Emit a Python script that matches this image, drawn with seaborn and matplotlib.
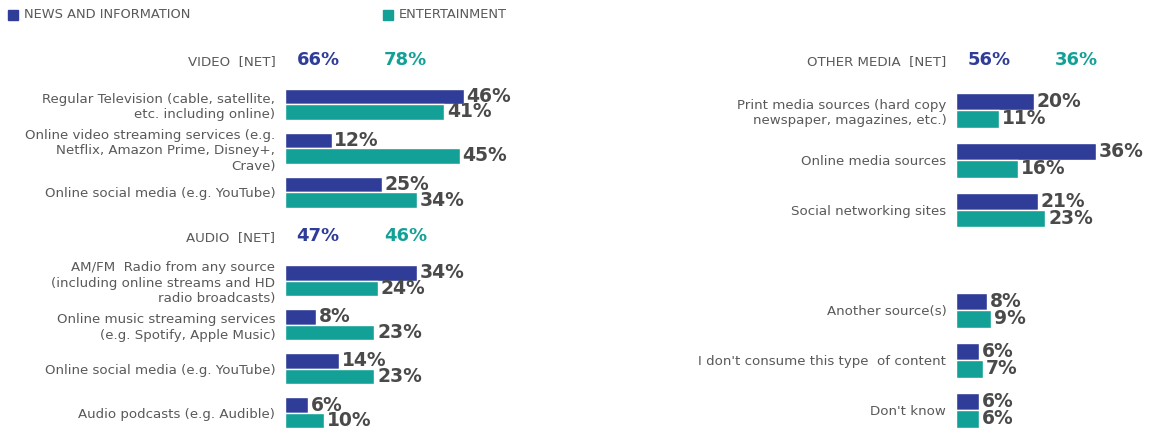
import numpy as np
import pandas as pd
import matplotlib
matplotlib.use("Agg")
import matplotlib.pyplot as plt
from matplotlib.patches import Rectangle
import seaborn as sns

# ---- data -------------------------------------------------------------
series_names = ["NEWS AND INFORMATION", "ENTERTAINMENT"]

left_keys = ["video_net", "tv", "video_stream", "video_social",
             "audio_net", "radio", "music_stream", "audio_social", "podcasts"]
left_labels = [
    "VIDEO  [NET]",
    "Regular Television (cable, satellite,\netc. including online)",
    "Online video streaming services (e.g.\nNetflix, Amazon Prime, Disney+,\nCrave)",
    "Online social media (e.g. YouTube)",
    "AUDIO  [NET]",
    "AM/FM  Radio from any source\n(including online streams and HD\nradio broadcasts)",
    "Online music streaming services\n(e.g. Spotify, Apple Music)",
    "Online social media (e.g. YouTube)",
    "Audio podcasts (e.g. Audible)",
]
left_news = [np.nan, 46, 12, 25, np.nan, 34, 8, 14, 6]
left_ent = [np.nan, 41, 45, 34, np.nan, 24, 23, 23, 10]
left_net_rows = ["video_net", "audio_net"]
left_net_news = [66, 47]
left_net_ent = [78, 46]

right_keys = ["other_net", "print", "online_media", "social_sites",
              "spacer", "another", "dont_consume", "dont_know"]
right_labels = [
    "OTHER MEDIA  [NET]",
    "Print media sources (hard copy\nnewspaper, magazines, etc.)",
    "Online media sources",
    "Social networking sites",
    "",
    "Another source(s)",
    "I don't consume this type  of content",
    "Don't know",
]
right_news = [np.nan, 20, 36, 21, np.nan, 8, 6, 6]
right_ent = [np.nan, 11, 16, 23, np.nan, 9, 7, 6]
right_net_rows = ["other_net"]
right_net_news = [56]
right_net_ent = [36]

# ---- style ------------------------------------------------------------
BLUE = "#2f3c98"
TEAL = "#13a197"
LABEL_GRAY = "#595959"
VALUE_GRAY = "#4a4a4a"

sns.set_style("white")
plt.rcParams["font.family"] = ["DejaVu Sans"]


def long_frame(keys, news, ent):
    return pd.DataFrame({
        "item": keys * 2,
        "source": [series_names[0]] * len(keys) + [series_names[1]] * len(keys),
        "pct": list(news) + list(ent),
    })


def draw_panel(ax, keys, labels, news, ent, net_rows, net_news, net_ent,
               xmax, ybottom):
    df = long_frame(keys, news, ent)
    sns.barplot(data=df, x="pct", y="item", hue="source", order=keys,
                hue_order=series_names, palette=[BLUE, TEAL], saturation=1,
                width=0.7, orient="h", errorbar=None, legend=False, ax=ax,
                edgecolor="white", linewidth=1.0)
    for cont in ax.containers:
        ax.bar_label(cont, fmt="{:.0f}%", padding=2, fontsize=13.5,
                     fontweight="bold", color=VALUE_GRAY)
    ax.set_yticks(range(len(keys)))
    ax.set_yticklabels(labels, fontsize=9.6, color=LABEL_GRAY,
                       linespacing=1.25)
    ax.tick_params(axis="y", length=0, pad=7)
    ax.set_xticks([])
    ax.set_xlabel("")
    ax.set_ylabel("")
    ax.set_xlim(0, xmax)
    ax.set_ylim(ybottom, -0.5)
    for s in ax.spines.values():
        s.set_visible(False)
    # net totals shown on the header rows
    for row, vn, ve in zip(net_rows, net_news, net_ent):
        yy = keys.index(row)
        ax.text(8.5, yy, f"{vn}%", ha="center", va="center", fontsize=13,
                fontweight="bold", color=BLUE)
        ax.text(31, yy, f"{ve}%", ha="center", va="center", fontsize=13,
                fontweight="bold", color=TEAL)


fig = plt.figure(figsize=(11.5, 4.34), dpi=100)

ax_l = fig.add_axes([285 / 1150, 0, 233 / 1150, (434 - 37.9) / 434])
draw_panel(ax_l, left_keys, left_labels, left_news, left_ent,
           left_net_rows, left_net_news, left_net_ent, 60, 8.48)

ax_r = fig.add_axes([956 / 1150, 0, 155.6 / 1150, (434 - 35) / 434])
draw_panel(ax_r, right_keys, right_labels, right_news, right_ent,
           right_net_rows, right_net_news, right_net_ent, 40, 7.48)

# legend across the top
for x0, color, name in [(8, BLUE, series_names[0]), (383, TEAL, series_names[1])]:
    fig.add_artist(Rectangle((x0 / 1150, 1 - 20 / 434), 10 / 1150, 10 / 434,
                             transform=fig.transFigure, color=color))
    fig.text((x0 + 16) / 1150, 1 - 15 / 434, name, ha="left", va="center",
             fontsize=9.4, color=LABEL_GRAY)

fig.savefig("out.png", dpi=100, facecolor="white")
